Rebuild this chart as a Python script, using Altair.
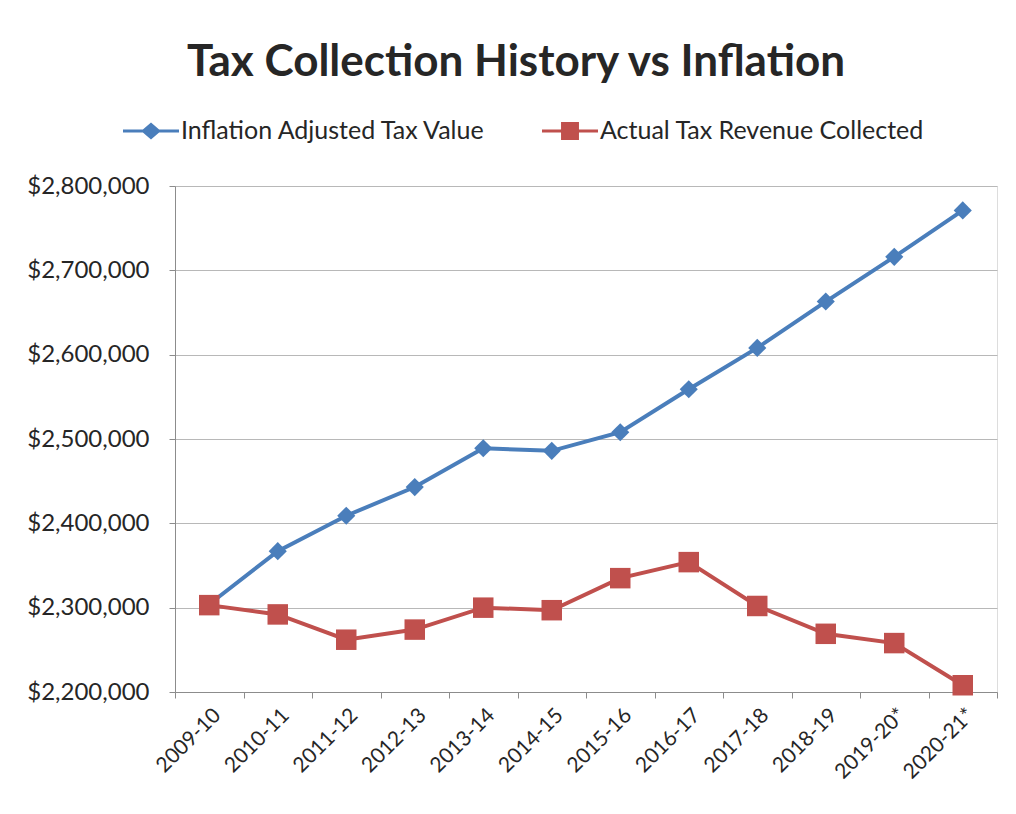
import altair as alt
import pandas as pd

categories = ["2009-10", "2010-11", "2011-12", "2012-13", "2013-14", "2014-15",
              "2015-16", "2016-17", "2017-18", "2018-19", "2019-20*", "2020-21*"]
inflation_adjusted = [2304000, 2367000, 2409000, 2443000, 2489000, 2486000,
                      2508000, 2559000, 2608000, 2663000, 2716000, 2771000]
actual_collected = [2303000, 2292000, 2262000, 2274000, 2300000, 2297000,
                    2335000, 2354000, 2302000, 2269000, 2258000, 2208000]
series_names = ["Inflation Adjusted Tax Value", "Actual Tax Revenue Collected"]
y_ticks = [2200000, 2300000, 2400000, 2500000, 2600000, 2700000, 2800000]

BLUE = "#4A7EBB"
RED = "#C0504D"
FONT = "Lato"
TEXT = "#262626"

rows = []
for c, v in zip(categories, inflation_adjusted):
    rows.append({"year": c, "value": v, "series": series_names[0]})
for c, v in zip(categories, actual_collected):
    rows.append({"year": c, "value": v, "series": series_names[1]})
df = pd.DataFrame(rows)

x_enc = alt.X("year:N", sort=categories,
              scale=alt.Scale(type="band", paddingInner=0, paddingOuter=0),
              axis=alt.Axis(title=None, labelAngle=-45, labelAlign="right",
                            labelBaseline="top", labelPadding=6, tickBand="extent",
                            tickSize=6, tickColor="#8c8c8c", domainColor="#8c8c8c",
                            grid=False, labelFont=FONT, labelFontSize=21,
                            labelColor=TEXT, labelOverlap=False))
y_enc = alt.Y("value:Q",
              scale=alt.Scale(domain=[2200000, 2800000], nice=False, zero=False),
              axis=alt.Axis(title=None, values=y_ticks, format="$,.0f",
                            grid=True, gridColor="#b8b8b8", gridWidth=1.2,
                            tickSize=6, tickColor="#8c8c8c", domainColor="#8c8c8c",
                            labelPadding=20, labelFont=FONT, labelFontSize=24,
                            labelColor=TEXT))

base = alt.Chart(df)

line_blue = base.transform_filter(alt.datum.series == series_names[0]).mark_line(
    color=BLUE, strokeWidth=4).encode(x=x_enc, y=y_enc)
line_red = base.transform_filter(alt.datum.series == series_names[1]).mark_line(
    color=RED, strokeWidth=4).encode(x=x_enc, y=y_enc)
pts_blue = base.transform_filter(alt.datum.series == series_names[0]).mark_point(
    shape="diamond", filled=True, color=BLUE, size=330, opacity=1).encode(x=x_enc, y=y_enc)
pts_red = base.transform_filter(alt.datum.series == series_names[1]).mark_point(
    shape="square", filled=True, color=RED, size=420, opacity=1).encode(x=x_enc, y=y_enc)

diamond_path = ("M-1,-0.055L-0.29,-0.055L0,-0.3L0.29,-0.055L1,-0.055L1,0.055"
                "L0.29,0.055L0,0.3L-0.29,0.055L-1,0.055Z")
square_path = ("M-1,-0.055L-0.32,-0.055L-0.32,-0.32L0.32,-0.32L0.32,-0.055L1,-0.055"
               "L1,0.055L0.32,0.055L0.32,0.32L-0.32,0.32L-0.32,0.055L-1,0.055Z")

legend_props = dict(title=None, orient="none", legendX=-52, legendY=-83,
                    direction="horizontal", symbolSize=3136,
                    symbolOpacity=1, symbolStrokeWidth=0,
                    labelFont=FONT, labelFontSize=25, labelColor=TEXT,
                    labelOffset=2, columnPadding=55, labelLimit=0)

legend_layer = base.mark_point(filled=True, opacity=0).encode(
    x=x_enc, y=y_enc,
    color=alt.Color("series:N", scale=alt.Scale(domain=series_names, range=[BLUE, RED]),
                    legend=alt.Legend(**legend_props)),
    shape=alt.Shape("series:N", scale=alt.Scale(domain=series_names,
                                                range=[diamond_path, square_path]),
                    legend=alt.Legend(**legend_props)),
)

chart = alt.layer(line_blue, line_red, pts_blue, pts_red, legend_layer).properties(
    width=822, height=506,
    autosize=alt.AutoSizeParams(type="none"),
    padding={"left": 167, "top": 178, "right": 5, "bottom": 110},
    title=alt.TitleParams("Tax Collection History vs Inflation", font=FONT,
                          fontSize=44, fontWeight="bold", color=TEXT,
                          anchor="middle", dx=-70, dy=44, offset=18, baseline="bottom"),
).configure_view(stroke=None).configure(background="white")

chart.save("out.html", embed_options={"renderer": "svg", "actions": False})
